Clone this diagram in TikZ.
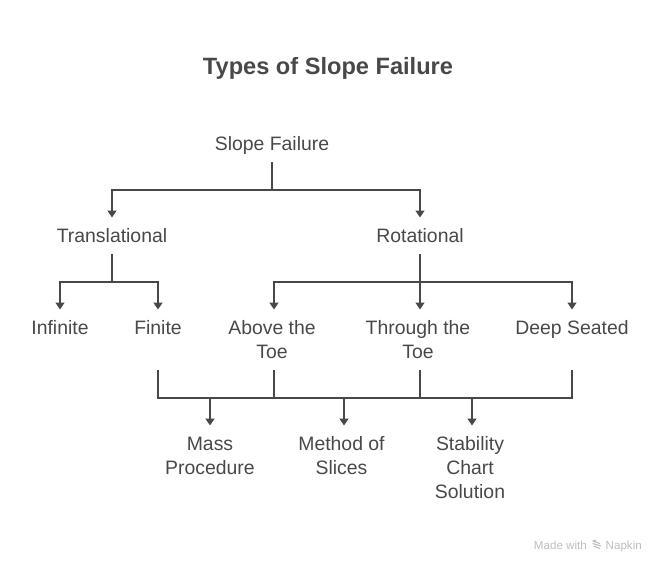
\documentclass[tikz,border=0pt]{standalone}
\usepackage{fontspec}
\setmainfont{Liberation Sans}
\usetikzlibrary{arrows.meta}
\definecolor{ink}{HTML}{484848}
\definecolor{stampgray}{HTML}{BDBDBD}
\newcommand\linestrut{\rule[-5.4pt]{0pt}{24pt}}
\tikzset{
  x=1pt,y=-1pt,
  label box/.style={anchor=north,inner xsep=0pt,inner ysep=6pt,align=center,text=ink,font=\fontsize{19.4}{24}\selectfont},
  title text/.style={anchor=center,inner sep=0pt,text=ink,font=\fontsize{23.6}{30}\selectfont\bfseries},
  stamp/.style={inner sep=0pt,text=stampgray,font=\fontsize{11.6}{13}\selectfont},
  link/.style={draw=ink,line width=2pt},
  feed/.style={link,shorten >=0.5pt,-{Triangle[width=9pt,length=7pt]}}
}
\begin{document}
\begin{tikzpicture}
\useasboundingbox (0,0) rectangle (656,562);
\node[title text] (title) at (328,68) {Types of Slope Failure};
\node[label box] (slope) at (272,126) {\linestrut Slope Failure};
\node[label box] (trans) at (112,218) {\linestrut Translational};
\node[label box] (rot) at (420,218) {\linestrut Rotational};
\node[label box] (inf) at (60,310) {\linestrut Infinite};
\node[label box] (fin) at (158,310) {\linestrut Finite\\\linestrut};
\node[label box] (above) at (272,310) {\linestrut Above the\\\linestrut Toe};
\node[label box] (through) at (418,310) {\linestrut Through the\\\linestrut Toe};
\node[label box] (deep) at (572,310) {\linestrut Deep Seated\\\linestrut};
\node[label box] (mass) at (210,426) {\linestrut Mass\\\linestrut Procedure};
\node[label box] (method) at (341.5,426) {\linestrut Method of\\\linestrut Slices};
\node[label box] (stab) at (470,426) {\linestrut Stability\\\linestrut Chart\\\linestrut Solution};
% junctions
\coordinate (j1) at (272,190);
\coordinate (j2) at (112,282);
\coordinate (j3) at (420,282);
\coordinate (aboveIn) at (274,310);
\coordinate (throughIn) at (420,310);
\coordinate (aboveOut) at (274,370);
\coordinate (throughOut) at (420,370);
\coordinate (methodIn) at (344,426);
\coordinate (stabIn) at (472,426);
\coordinate (busL) at (158,398);
\coordinate (busR) at (572,398);
% top level
\draw[link] (slope.south) -- (j1);
\draw[feed] (j1) -| (trans.north);
\draw[feed] (j1) -| (rot.north);
% translational
\draw[link] (trans.south) -- (j2);
\draw[feed] (j2) -| (inf.north);
\draw[feed] (j2) -| (fin.north);
% rotational
\draw[feed] (rot.south) -- (throughIn);
\draw[feed] (j3) -| (aboveIn);
\draw[feed] (j3) -| (deep.north);
% merge
\draw[link] (fin.south) |- (busR) -- (deep.south);
\draw[link] (aboveOut) -- (aboveOut |- busL);
\draw[link] (throughOut) -- (throughOut |- busL);
\draw[feed] (mass.north |- busL) -- (mass.north);
\draw[feed] (methodIn |- busL) -- (methodIn);
\draw[feed] (stabIn |- busL) -- (stabIn);
% watermark
\node[stamp,anchor=base east] (made) at (587,549) {Made with};
\node[stamp,anchor=base east] (napkin) at (642,549) {Napkin};
\draw[stampgray,line width=1.1pt] (592.5,541) -- (600,543.5) (592.5,543.5) -- (601,546) (593.5,546) -- (600,548.5) (593,540.5) -- (596,540.5);
\end{tikzpicture}
\end{document}
